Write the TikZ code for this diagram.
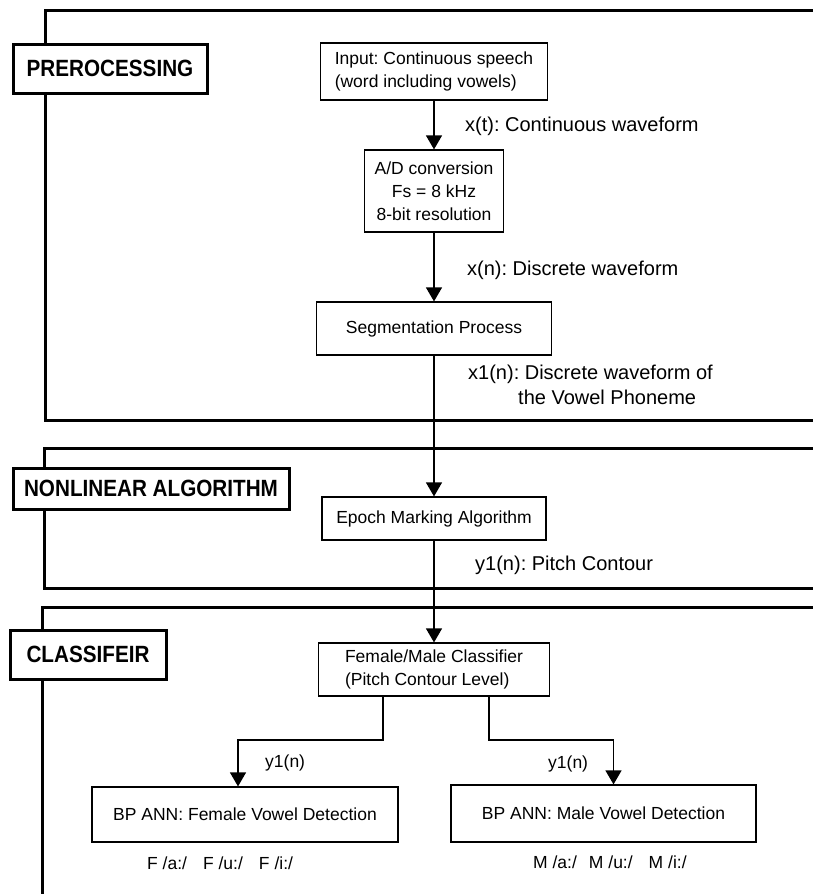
\documentclass[tikz,border=0pt]{standalone}
\usepackage{fontspec}
\setmainfont{Liberation Sans}
\newfontfamily\headfont[FakeStretch=0.88]{Liberation Sans}
\usetikzlibrary{arrows.meta}
\frenchspacing
\begin{document}
\begin{tikzpicture}[x=1pt,y=-1pt,
  panel/.style={line width=3pt},
  head/.style={draw,line width=3pt,fill=white,inner sep=0pt,font=\headfont\bfseries\fontsize{23.5}{26}\selectfont},
  proc/.style={draw,line width=1.2pt,fill=white,inner sep=0pt,font=\fontsize{17.5}{23}\selectfont},
  lbl/.style={inner sep=0pt,anchor=west,font=\fontsize{20}{25}\selectfont},
  small/.style={lbl,font=\fontsize{17.5}{21}\selectfont},
  arr/.style={line width=1.2pt,-{Triangle[width=16pt,length=14pt]}}]
\useasboundingbox (0,0) rectangle (813,894);
\draw[panel] (813,10) -- (45,10) -- (45,420) -- (813,420);
\draw[panel] (813,448) -- (44,448) -- (44,588) -- (813,588);
\draw[panel] (813,607) -- (42,607) -- (42,894);
\path node[head,minimum width=194,minimum height=49] (pre) at (110,68.5) {PREROCESSING}
node[head,minimum width=276,minimum height=41] (nonlin) at (151,488.5) {NONLINEAR ALGORITHM}
node[head,minimum width=156,minimum height=49] (cls) at (88,654.5) {CLASSIFEIR}
node[proc,minimum width=227,minimum height=57,align=left] (input) at (434,71.5) {Input: Continuous speech\\(word including vowels)}
node[proc,minimum width=139,minimum height=82,align=center] (adc) at (434,191) {A/D conversion\\Fs = 8 kHz\\8-bit resolution}
node[proc,minimum width=235,minimum height=53] (segm) at (434,328.5) {Segmentation Process}
node[proc,minimum width=224,minimum height=43] (epoch) at (434,518.5) {Epoch Marking Algorithm}
node[proc,minimum width=231,minimum height=53,align=left] (fmcls) at (434,669.5) {Female/Male Classifier\\(Pitch Contour Level)}
node[proc,minimum width=306,minimum height=55] (fann) at (245,814.5) {BP ANN: Female Vowel Detection}
node[proc,minimum width=305,minimum height=57] (mann) at (603.5,813.5) {BP ANN: Male Vowel Detection}
node[lbl] (xt) at (465,126) {x(t): Continuous waveform}
node[lbl] (xn) at (467,270) {x(n): Discrete waveform}
node[lbl,align=left] (x1n) at (468,385) {x1(n): Discrete waveform of\\\hspace*{50pt}the Vowel Phoneme}
node[lbl] (y1n) at (475,565) {y1(n): Pitch Contour}
node[small] (y1f) at (265,763) {y1(n)}
node[small] (y1m) at (548,764) {y1(n)}
node[small] (fout) at (147,863) {F /a:/\hspace{16pt}F /u:/\hspace{16pt}F /i:/}
node[small] (mout) at (533,862) {M /a:/\hspace{12pt}M /u:/\hspace{16pt}M /i:/}
;
\coordinate (fbend) at (383,740);
\coordinate (mbend) at (489,740);
\draw[arr] (input) -- (adc);
\draw[arr] (adc) -- (segm);
\draw[arr] (segm) -- (epoch);
\draw[arr] (epoch) -- (fmcls);
\draw[arr] (fmcls.south -| fbend) -- (fbend) -| ([xshift=-7pt]fann.north);
\draw[arr] (fmcls.south -| mbend) -- (mbend) -| ([xshift=10pt]mann.north);
\end{tikzpicture}
\end{document}
